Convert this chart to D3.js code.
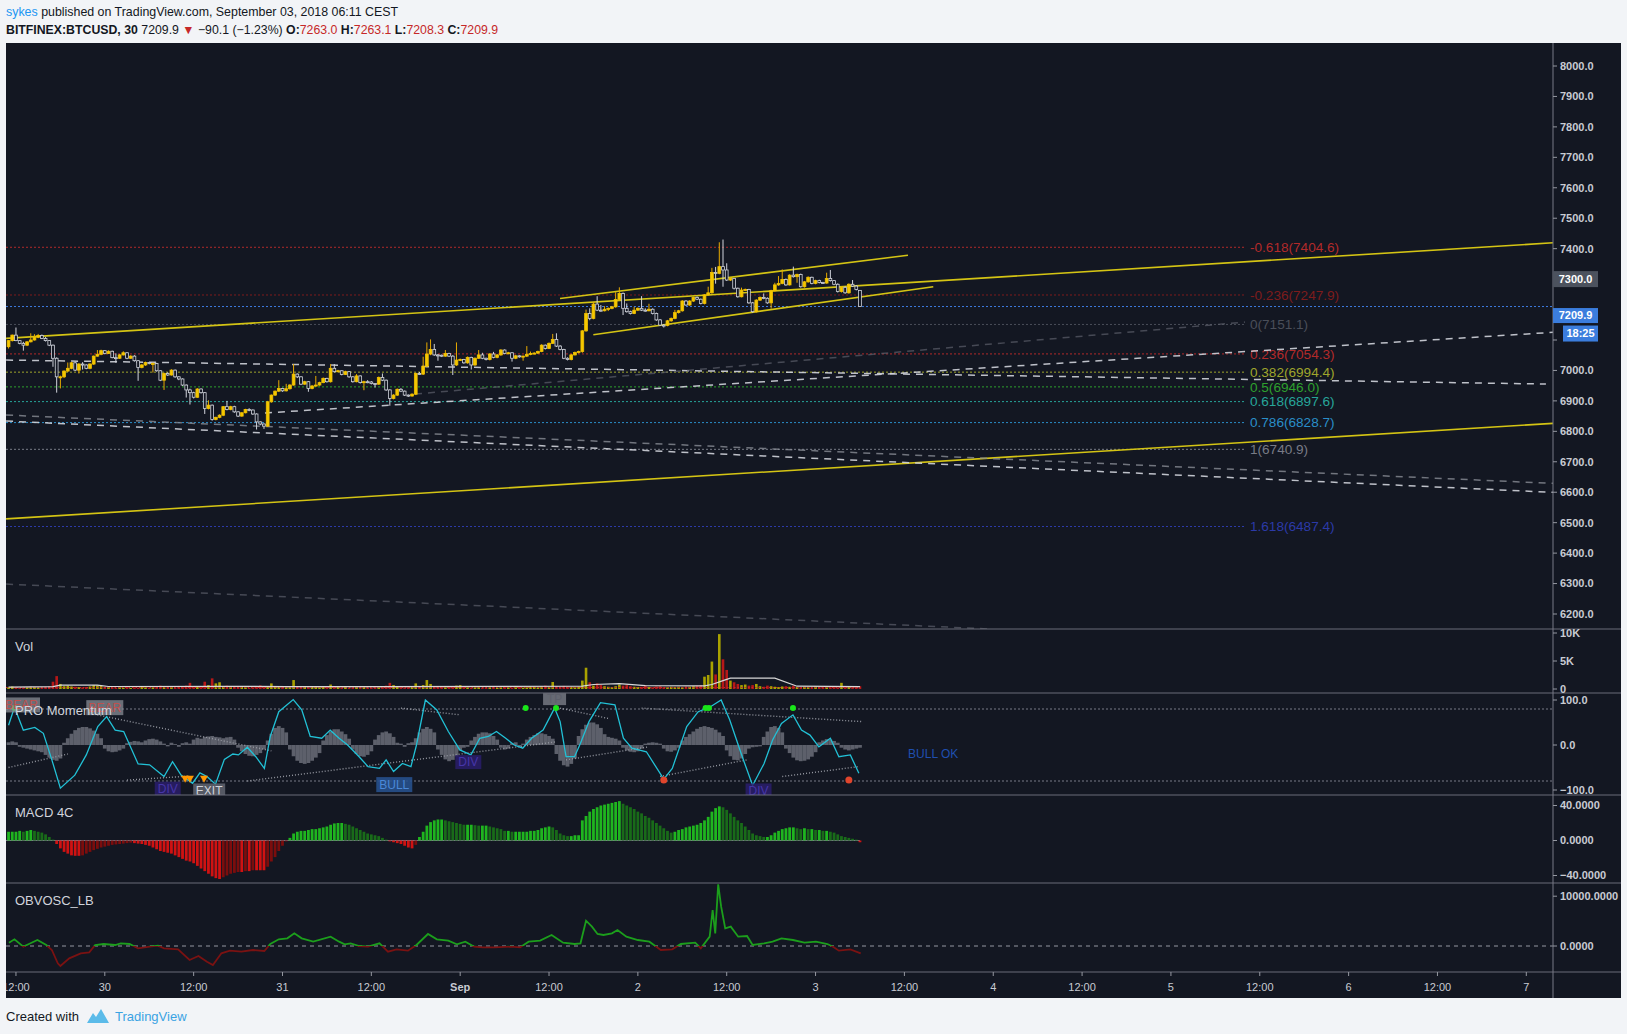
<!DOCTYPE html>
<html>
<head>
<meta charset="utf-8">
<script src="https://cdn.jsdelivr.net/npm/d3@7"></script>
<style>
  body { margin: 0; background: #f2f4f7; }
  svg text { font-family: "Liberation Sans", Arial, sans-serif; }
</style>
</head>
<body>
<svg id="chart"></svg>
<script>
// ---- data (30 min bars, BITFINEX:BTCUSD) ----
const firstOpen = 7078;
const lastOpen = 7263.0;
const closes = [
  7098,7116,7098,7089,7083,7094,7100,7109,7115,7105, 7098,7083,7040,6979,6979,6998,7007,7025,7001,7021,
  7018,7007,7021,7047,7053,7065,7056,7063,7042,7040, 7051,7058,7040,7047,7032,7010,7018,7026,7023,7023,
  6999,6968,6990,6985,7001,6979,6972,6952,6936,6927, 6912,6939,6927,6875,6886,6839,6846,6853,6881,6872,
  6881,6864,6850,6861,6872,6870,6857,6831,6824,6817, 6897,6919,6932,6941,6933,6940,6952,6988,6979,
  6955,6963,6941,6949,6952,6960,6974,6963,7007,6996, 6999,6987,6996,6979,6963,6982,6960,6963,6962,6957,
  6955,6977,6968,6936,6908,6919,6938,6932,6919,6916, 6922,6990,6988,7014,7054,7069,7051,7050,7047,7056,
  7047,7018,7034,7036,7025,7043,7018,7040,7051,7040, 7036,7054,7043,7051,7067,7056,7058,7040,7048,7045,
  7047,7053,7056,7057,7062,7083,7072,7089,7102,7080, 7069,7040,7036,7051,7059,7062,7130,7187,
  7171,7218,7198,7196,7201,7204,7209,7233,7253,7204, 7193,7187,7198,7204,7198,7196,7201,7187,7166,7149,
  7148,7163,7171,7190,7196,7228,7215,7228,7240,7234, 7220,7248,7255,7322,7319,7341,7330,7297,7302,7270,
  7242,7264,7266,7222,7193,7231,7240,7237,7222,7262, 7281,7286,7299,7281,7313,7308,7315,7275,7291,7306,
  7286,7295,7289,7287,7302,7295,7283,7259,7273,7255, 7283,7277,7266,7209.9
];
const highs = [
  7100,7118,7141,7099,7094,7096,7122,7119,7120,7118, 7110,7100,7085,7043,6983,7000,7026,7028,7028,7024,
  7027,7020,7023,7049,7067,7068,7067,7066,7065,7056, 7054,7063,7060,7050,7050,7034,7021,7029,7028,7026,
  7025,7001,6993,6994,7004,7003,6981,6974,6954,6940, 6930,6942,6941,6929,6902,6888,6848,6856,6883,6900,
  6884,6884,6866,6863,6874,6876,6872,6859,6833,6826, 6900,6921,6934,6968,6943,6956,6955,7021,6990,
  6981,6966,6965,6952,6982,6963,6977,6976,7021,7021, 7002,7000,6999,6998,6981,6988,6984,6966,6968,6965,
  6958,6980,6990,6970,6938,6922,6941,6942,6934,6921, 6925,6993,6995,7045,7092,7102,7087,7054,7052,7067,
  7058,7050,7092,7039,7038,7046,7045,7043,7067,7058, 7042,7057,7061,7054,7070,7069,7061,7060,7051,7050,
  7049,7080,7062,7060,7065,7086,7085,7092,7120,7122, 7083,7071,7043,7054,7062,7065,7133,7200,
  7204,7225,7244,7215,7211,7207,7212,7257,7273,7256, 7220,7196,7209,7207,7244,7204,7219,7204,7190,7169,
  7152,7166,7174,7199,7199,7231,7231,7231,7243,7243, 7236,7251,7275,7337,7340,7421,7430,7352,7305,7300,
  7272,7272,7269,7268,7225,7234,7243,7253,7240,7265, 7288,7310,7332,7302,7316,7341,7318,7318,7294,7309,
  7308,7298,7298,7291,7321,7330,7297,7286,7276,7276, 7286,7297,7280,7263.1
];
const lows = [
  7072,7095,7096,7086,7065,7080,7092,7098,7106,7103, 7095,7080,7012,6927,6941,6975,6995,7004,6998,6990,
  7003,7004,7004,7018,7045,7050,7053,7054,7040,7025, 7038,7049,7037,7038,7029,6966,7007,7015,7020,6993,
  6996,6965,6936,6982,6983,6976,6968,6949,6911,6888, 6908,6910,6924,6857,6872,6835,6836,6843,6850,6869,
  6869,6861,6847,6848,6859,6866,6854,6806,6820,6808, 6815,6894,6916,6929,6930,6931,6937,6950,6975,
  6952,6953,6930,6938,6946,6950,6958,6960,6960,6993, 6994,6984,6985,6976,6960,6961,6957,6935,6958,6954,
  6944,6953,6965,6933,6884,6905,6916,6929,6916,6913, 6914,6919,6985,6985,7010,7050,7048,7032,7044,7045,
  7044,6985,7015,7031,7022,7022,7003,7015,7038,7037, 7033,7033,7040,7040,7048,7053,7053,7029,7037,7042,
  7032,7044,7050,7053,7054,7060,7069,7070,7087,7077, 7066,7037,7033,7033,7049,7056,7058,7127,
  7165,7168,7195,7193,7194,7195,7201,7206,7230,7182, 7190,7184,7185,7195,7195,7193,7194,7184,7163,7146,
  7141,7145,7160,7168,7187,7193,7212,7212,7225,7231, 7217,7217,7245,7252,7285,7316,7275,7294,7294,7266,
  7239,7240,7261,7219,7190,7190,7228,7234,7219,7203, 7259,7278,7283,7278,7279,7305,7288,7272,7272,7288,
  7283,7283,7286,7284,7285,7292,7280,7256,7256,7252, 7252,7274,7263,7208.3
];
const volumes = [
  300,450,350,200,250,300,400,350,250,300, 350,500,1300,2300,900,500,600,450,400,350,
  300,350,450,700,650,600,400,350,300,250, 300,250,350,200,300,250,500,300,250,300,
  450,600,500,400,350,300,550,400,600,1100, 500,450,400,1300,700,1900,1000,1200,500,600,
  450,400,500,350,300,250,300,500,650,400, 350,1000,500,400,500,300,450,1600,400,350,
  400,300,500,350,300,400,500,800,450,400, 300,350,250,300,400,350,500,300,250,350,
  300,400,600,1100,700,400,350,300,350,500, 1000,500,700,1600,900,500,400,350,300,450,
  400,600,700,350,300,250,300,350,250,300, 300,350,250,300,400,300,250,300,350,250,
  300,400,350,300,450,600,400,1250,500,400, 550,400,350,300,400,1500,3800,1200,600,1000,
  700,500,400,350,500,800,600,700,500,400, 350,400,600,350,300,450,500,350,300,400,
  350,400,300,450,400,500,600,700,2200,2500, 4900,2600,9800,5300,3400,1500,1200,900,700,800,
  600,700,900,500,400,600,500,400,350,450, 500,400,600,350,300,400,350,300,450,400,
  350,300,400,350,300,1100,500,400,350,450, 500
];
// volume moving average: [bar index, value]
const volMA = [[0,350],[12,420],[14,700],[24,700],[27,450],[60,480],[75,420],[100,420],[155,500],[158,800],
  [165,950],[172,600],[188,550],[190,800],[193,1500],[195,1950],[207,1950],[213,500],[230,420]];

// PRO Momentum
const momHist = [
  6,8,6, -4,-6,-8,-10,-12,-14,-16, -22,-28,-33,-35,-30, 5,15,25,33,38,40,40,37,32,25,15,
  -8,-14,-16,-15,-12,-8, 4,7,9,8,6, 10,13,14,12,8, 3,-3,5,2,-4,4,6,3, 12,16,14,
  18,19,20,18,17,15,17,18,12, -6,-14,-20,-24,-25,-22,-18,-10, 10,25,38,42,38,28,
  -10,-25,-35,-40,-42,-40,-35,-28,-18, 10,22,30,35,35,30,24,14, -10,-20,-25,-26,-22,-14,
  12,22,28,30,26,18, 5,3,-4,4,6, 15,28,36,40,36,28, -10,-22,-32,-36,-33,-25, -12,-6,-4,
  10,18,25,28,28,26,20,12, -6,-10,-8,4,6,-5,3, 12,18,22,26,26,24,20,14, -20,-35,-45,-48,-42,-30,
  20,35,45,50,50,46,38, 24,18,16,14,10, -6,-12,-15,-16,-14,-8, 3,5,6,5,3, -8,-14,-15,-12,-6,
  10,18,24,30,36,40,42,40,38,34,28,20, -12,-25,-33,-34,-30,-20, -8,-5,-4,-3, 18,30,40,42,38,28,
  -8,-18,-28,-34,-36,-35,-32,-26,-16, 6,10,13,12,9,5, -6,-10,-12,-10,-8,-6
];
const momLine = [[0,44],[1.6,84],[4,33],[7.1,39],[9.4,26],[11.7,-33],[14,-96],[17.9,-67],[21,-22],[24.1,41],
  [26.5,63],[28.8,33],[31.1,30],[35,-42],[38.1,-44],[42,-70],[44.3,-37],[46.6,-67],[49.7,-85],[51.7,-62],
  [53.6,-70],[55.9,-87],[58.3,-32],[60.6,-20],[62.1,-22],[64.5,-5],[66.8,-26],[69.1,-52],[70.7,19],[73,74],
  [76.9,101],[79.2,78],[81.5,19],[84.6,15],[86.9,33],[89.3,15],[91.6,0],[94.7,-26],[97.1,-48],[100.2,-52],
  [102,-33],[104,-59],[106.4,-41],[108.7,-48],[110.2,0],[112.6,100],[115.7,78],[118.8,30],[121.9,-11],[124.9,-22],
  [127.3,15],[129.6,19],[131.8,30],[134.3,15],[136.6,0],[138.9,-7],[141.3,15],[144.4,33],[147.5,82],[149,52],
  [150.6,-26],[152.9,-26],[154.5,4],[156.8,52],[159.9,94],[163.8,89],[166.1,15],[168.4,-7],[172.3,-15],[177,-76],
  [179.3,-52],[183.2,41],[186.3,74],[189.4,84],[192.5,100],[194.8,56],[197.9,-19],[201,-90],[204.1,-41],[206.4,11],
  [208.8,48],[211.9,67],[214.2,33],[216.5,22],[218.9,-4],[222,15],[224.3,-26],[227.4,-22],[229.7,-63]];
// trailing stop lines: [from bar, from value, to bar, to value]
const momTrails = [[0,-50,16,-20],[24,67,71,-13],[32,-78,49,-69],[64.5,-80,148,7],[106,82,122,67],
  [149,82,162,59],[150.6,-33,173,-4],[171,82,230.5,52],[176,-70,199.5,-33],[209,-70,229.7,-48]];
const momTopDots = [1.6,139.7,147.9,188.3,189.2,211.9];
const momBottomDots = [177,227];
const momExitMarks = [47.7,49,52.8];
const momTags = [
  {text:'BEAR', bar:3.5, value:89, kind:'bear'},
  {text:'BEAR', bar:26, value:83, kind:'bear'},
  {text:'TP', bar:147.5, value:102, kind:'tp'},
  {text:'DIV', bar:43, value:-97, kind:'div'},
  {text:'EXIT', bar:54.2, value:-101, kind:'exit'},
  {text:'BULL', bar:104.2, value:-88, kind:'bull'},
  {text:'DIV', bar:124.2, value:-38, kind:'div'},
  {text:'DIV', bar:202.6, value:-101, kind:'div'}
];
const momNote = {text:'BULL OK', bar:243, value:-20};

// MACD 4C histogram
const macdHist = [
  10,10,10,11,10,11,12,11, 10,9,7,4,1,
  -4,-9,-13,-15,-17,-17.5,-17.5,-17,-15,-13,-11,-9.5,-8,-7,-6,-5,-4.5,-4,-3.5,-3,-2.5,-3,-3.5,
  -4,-5,-6,-8,-10,-12,-13,-14,-15,-17,-19,-21,-23,-24,-26,-29,-32,-35,-38,-41,
  -43,-44,-42,-40,-38,-37,-36,-36,-35,-35,-34,-34,-34,-34,-30,-24,-19,-12,-6,-1,
  3,8,10,11,11,12,13,13,14,15,16,18,19.5,20,20,19,18,16,14,12,10,8,7,6,5,3,1,
  -1,-2,-3,-4,-6,-8,-9,-5,4,
  10,17,21,23,24,24,23,22,21,20,19,18,18,18,17.5,17,17,17,16,15,14,13,11,11,10,
  10,10,10,10,11,11,12,14,15,16,15,12,8,6,5,5,6,6,
  23,28,33,36,38,40,41,42,43,44,45,42,40,38,36,33,31,28,26,23,20,17,14,11,9,
  10,12,13,15,16,17,18,20,23,27,33,37,39,38,35,31,27,23,20,16,12,8,6,5,4,
  4,6,9,11,13,14,15,15,14,13,14,13,13,12,12,11,11,10,9,7,5,4,3,2,1,-2
];

// OBV oscillator: [bar index, value]
const obvLine = [[0.1,669],[1.6,1339],[4,-134],[5.5,402],[7.8,1205],[10.2,201],[11.7,-803],[13.3,-3480],[14,-4016],
  [16.4,-2476],[19.5,-1473],[21.8,-1272],[23.4,201],[25.7,402],[28.8,201],[30.3,535],[32.7,402],[35,-469],[38.1,-134],
  [40.4,67],[42,-469],[45.8,-669],[48.9,-2811],[51.3,-2008],[53.6,-3146],[55.2,-3815],[57.5,-1473],[59.8,-937],
  [62.9,-1138],[66,-803],[69.1,-1004],[70.7,402],[73,1339],[75.3,1540],[77.2,2543],[79.2,1540],[82.3,870],[87,1874],
  [89.3,870],[90.8,335],[92.4,535],[94.7,0],[97.1,-134],[100.2,535],[102.5,-1138],[104.8,-669],[107.9,-937],[110.2,201],
  [113.3,2410],[115.7,1339],[118.8,1071],[121.1,335],[123.4,870],[125.8,-134],[128.1,-268],[131.2,-268],[135.8,-134],
  [138.2,-268],[140.5,870],[143.6,1071],[146.7,2209],[149.8,669],[152.9,402],[154.5,535],[156,5087],[157.6,3882],
  [159.1,2410],[160.7,2209],[163,2543],[164.5,3213],[166.9,1874],[170,1205],[173.1,870],[176.2,-803],[179.3,-669],
  [181.6,402],[185.5,669],[187,-469],[189.4,1874],[190.2,7229],[190.9,2543],[191.7,12384],[192.5,7898],[193.6,3547],
  [195.1,3882],[197.1,1874],[199.5,2008],[201,201],[204.1,535],[206.4,870],[208.8,1540],[211.9,1205],[215,669],
  [218.1,870],[221.2,402],[222.7,-134],[224.3,-937],[227.4,-669],[230.2,-1473]];

// Fibonacci retracement
const fibLevels = [
  {label:'-0.618', price:7404.6}, {label:'-0.236', price:7247.9}, {label:'0', price:7151.1},
  {label:'0.236', price:7054.3}, {label:'0.382', price:6994.4}, {label:'0.5', price:6946.0},
  {label:'0.618', price:6897.6}, {label:'0.786', price:6828.7}, {label:'1', price:6740.9},
  {label:'1.618', price:6487.4}
];
const fibEnd = '2018-09-05T10:00Z';

// drawn trend lines: [time, price] anchors
const trendLines = [
  {kind:'yellow', p:[['2018-08-29T10:40Z',7105.4],['2018-09-07T03:36Z',7419.2]]},
  {kind:'yellow', p:[['2018-08-29T10:40Z',6512.5],['2018-09-07T03:36Z',6826.2]]},
  {kind:'yellow', p:[['2018-09-01T13:29Z',7236.2],['2018-09-03T12:29Z',7378.5]]},
  {kind:'yellow', p:[['2018-09-01T17:59Z',7117.3],['2018-09-03T15:54Z',7275.0]]},
  {kind:'white', p:[['2018-08-29T10:40Z',7034.2],['2018-09-07T02:39Z',6955.3]]},
  {kind:'white', p:[['2018-08-30T21:38Z',6860.4],['2018-09-07T03:36Z',7125.2]]},
  {kind:'faint', p:[['2018-08-31T17:54Z',6922.5],['2018-09-05T10:00Z',7159.0]]},
  {kind:'gray', p:[['2018-08-29T10:40Z',6853.5],['2018-09-07T03:36Z',6629.1]]},
  {kind:'white', p:[['2018-08-29T10:40Z',6833.8],['2018-09-07T03:36Z',6599.6]]},
  {kind:'faint', p:[['2018-08-29T10:40Z',6298.3],['2018-09-03T23:42Z',6150.5]]}
];

const lastPrice = 7209.9;
const markedPrice = 7300;
const countdown = '18:25';
const timeTickLabels = ['12:00','30','12:00','31','12:00','Sep','12:00','2','12:00','3','12:00','4','12:00','5','12:00','6','12:00','7'];
const priceTicks = d3.range(6200, 8001, 100);

// ---- layout ----
const W = 1627, H = 1034;
const plotL = 6, plotR = 1553, frameR = 1621;
const panes = {
  main: [43, 629], vol: [629, 693], mom: [693, 795], macd: [795, 883], obv: [883, 972]
};
const bg = '#131722';
const axisText = '#c8cbd3';

const barStart = Date.UTC(2018, 7, 29, 11, 0);
const barMs = 30 * 60 * 1000;
const barTime = i => new Date(barStart + i * barMs);

var x = d3.scaleUtc()
  .domain([Date.UTC(2018, 7, 30), Date.UTC(2018, 8, 7)])
  .range([104.8, 1526.3]);

var y = d3.scaleLinear().domain([6200, 8000]).range([614, 66]);
var yVol = d3.scaleLinear().domain([0, 10000]).range([689, 633]);
var yMom = d3.scaleLinear().domain([-100, 100]).range([790, 700]);
var yMacd = d3.scaleLinear().domain([-40, 40]).range([875.5, 805.5]);
var yObv = d3.scaleLinear().domain([0, 10000]).range([946, 896.2]);

var bars = closes.map((c, i) => ({
  i: i,
  t: barTime(i),
  o: i === 0 ? firstOpen : (i === closes.length - 1 ? lastOpen : closes[i - 1]),
  h: highs[i], l: lows[i], c: c, v: volumes[i]
}));
bars.forEach(b => { b.up = b.c >= b.o; });

var svg = d3.select('#chart').attr('width', W).attr('height', H);
var defs = svg.append('defs');

svg.append('rect').attr('width', W).attr('height', H).attr('fill', '#f2f4f7');
svg.append('rect')
  .attr('x', plotL).attr('y', 43)
  .attr('width', frameR - plotL).attr('height', 998 - 43)
  .attr('fill', bg);

function clipFor(id, top, bottom) {
  defs.append('clipPath').attr('id', id)
    .append('rect')
    .attr('x', plotL).attr('y', top)
    .attr('width', plotR - plotL).attr('height', bottom - top);
  return svg.append('g').attr('clip-path', `url(#${id})`);
}

// ---- header ----
var h1 = svg.append('text').attr('x', 6).attr('y', 16).attr('font-size', 12.4).attr('fill', '#131722');
h1.append('tspan').attr('fill', '#2196f3').text('sykes');
h1.append('tspan').text(' published on TradingView.com, September 03, 2018 06:11 CEST');

var h2 = svg.append('text').attr('x', 6).attr('y', 34).attr('font-size', 12.3).attr('fill', '#131722');
h2.append('tspan').attr('font-weight', 'bold').text('BITFINEX:BTCUSD, 30');
h2.append('tspan').text('  ' + lastPrice.toFixed(1) + ' ');
h2.append('tspan').attr('fill', '#c62828').text('▼');
h2.append('tspan').text(' −90.1 (−1.23%) ');
[['O:', lastOpen], ['H:', highs[highs.length - 1]], ['L:', lows[lows.length - 1]], ['C:', lastPrice]].forEach(d => {
  h2.append('tspan').attr('font-weight', 'bold').text(d[0]);
  h2.append('tspan').attr('fill', '#c62828').text(d[1].toFixed(1) + ' ');
});

// ---- footer ----
svg.append('text').attr('x', 6).attr('y', 1021).attr('font-size', 13).attr('fill', '#131722').text('Created with');
svg.append('path')
  .attr('d', 'M87,1023 L93,1013 L96,1017 L101,1009 L109,1023 Z')
  .attr('fill', '#5bbbe9');
svg.append('text').attr('x', 115).attr('y', 1021).attr('font-size', 13).attr('fill', '#3aa3e3').text('TradingView');

// ---- main pane ----
var main = clipFor('clip-main', panes.main[0], panes.main[1]);

// fib levels
const fibColors = ['#b22a2a', '#7d1c1c', '#4a4e59', '#b22a2a', '#9fa52c', '#2ea02e', '#27a69a', '#2a8ec8', '#787b86', '#2c3aa8'];
fibLevels.forEach((f, k) => {
  main.append('line')
    .attr('x1', plotL).attr('x2', x(new Date(fibEnd)))
    .attr('y1', y(f.price)).attr('y2', y(f.price))
    .attr('stroke', fibColors[k]).attr('stroke-width', 1)
    .attr('stroke-dasharray', '2,2');
  main.append('text')
    .attr('x', x(new Date(fibEnd)) + 5).attr('y', y(f.price))
    .attr('dy', '0.35em').attr('font-size', 13.6)
    .attr('fill', fibColors[k])
    .text(`${f.label}(${f.price.toFixed(1)})`);
});

// last price line
main.append('line')
  .attr('x1', plotL).attr('x2', plotR)
  .attr('y1', y(lastPrice)).attr('y2', y(lastPrice))
  .attr('stroke', '#3d7be0').attr('stroke-dasharray', '2,2');

// trend lines
const lineStyle = {
  yellow: {stroke: '#d4c414', width: 1.6, dash: null, op: 1},
  white: {stroke: '#d1d4dc', width: 1.5, dash: '7,6', op: 0.9},
  gray: {stroke: '#8a8d96', width: 1.5, dash: '7,6', op: 0.8},
  faint: {stroke: '#5d606b', width: 1.5, dash: '7,6', op: 0.7}
};
var tl = d3.line().x(d => x(new Date(d[0]))).y(d => y(d[1]));
trendLines.forEach(l => {
  var s = lineStyle[l.kind];
  main.append('path')
    .attr('d', tl(l.p))
    .attr('fill', 'none')
    .attr('stroke', s.stroke)
    .attr('stroke-width', s.width)
    .attr('stroke-opacity', s.op)
    .attr('stroke-dasharray', s.dash);
});

// candles
const bodyW = 2.8;
var candle = main.append('g').selectAll('g').data(bars).join('g');
candle.append('line')
  .attr('x1', d => x(d.t)).attr('x2', d => x(d.t))
  .attr('y1', d => y(d.h)).attr('y2', d => y(d.l))
  .attr('stroke', d => d.up ? '#e8aa00' : '#d1d4dc')
  .attr('stroke-width', 1);
candle.append('rect')
  .attr('x', d => x(d.t) - bodyW / 2)
  .attr('y', d => y(Math.max(d.o, d.c)))
  .attr('width', bodyW)
  .attr('height', d => Math.max(1, Math.abs(y(d.o) - y(d.c))))
  .attr('fill', d => d.up ? '#f5c800' : bg)
  .attr('stroke', d => d.up ? '#f0c000' : '#d1d4dc')
  .attr('stroke-width', 0.8);

// ---- volume pane ----
var vol = clipFor('clip-vol', panes.vol[0], panes.vol[1]);
vol.append('g').selectAll('rect').data(bars).join('rect')
  .attr('x', d => x(d.t) - 1.3)
  .attr('y', d => yVol(d.v))
  .attr('width', 2.6)
  .attr('height', d => yVol(0) - yVol(d.v))
  .attr('fill', d => d.up ? '#a9a200' : '#b71818');
vol.append('line')
  .attr('x1', plotL).attr('x2', x(barTime(bars.length - 1)))
  .attr('y1', yVol(0) - 1.5).attr('y2', yVol(0) - 1.5)
  .attr('stroke', '#c62828').attr('stroke-dasharray', '1.5,2');
vol.append('path')
  .attr('d', d3.line().x(d => x(barTime(d[0]))).y(d => yVol(d[1]))(volMA))
  .attr('fill', 'none').attr('stroke', '#d8d8d8').attr('stroke-width', 1.2);
svg.append('text').attr('x', 15).attr('y', panes.vol[0] + 22).attr('font-size', 13)
  .attr('fill', '#d1d4dc').text('Vol');

// ---- PRO Momentum pane ----
var mom = clipFor('clip-mom', panes.mom[0], panes.mom[1]);
[80, -80].forEach(v => {
  mom.append('line')
    .attr('x1', plotL).attr('x2', plotR)
    .attr('y1', yMom(v)).attr('y2', yMom(v))
    .attr('stroke', '#787b86').attr('stroke-dasharray', '2,2');
});
mom.append('g').selectAll('rect').data(momHist).join('rect')
  .attr('x', (d, i) => x(barTime(i)) - 1.9)
  .attr('y', d => yMom(Math.max(0, d)))
  .attr('width', 3.8)
  .attr('height', d => Math.abs(yMom(d) - yMom(0)))
  .attr('fill', '#5d606b');
momTrails.forEach(t => {
  mom.append('line')
    .attr('x1', x(barTime(t[0]))).attr('y1', yMom(t[1]))
    .attr('x2', x(barTime(t[2]))).attr('y2', yMom(t[3]))
    .attr('stroke', '#9598a1').attr('stroke-width', 1.4)
    .attr('stroke-dasharray', '1,2');
});
mom.append('path')
  .attr('d', d3.line().x(d => x(barTime(d[0]))).y(d => yMom(d[1]))(momLine))
  .attr('fill', 'none').attr('stroke', '#22c1d6').attr('stroke-width', 1.3);
mom.selectAll('circle.top').data(momTopDots).join('circle')
  .attr('cx', d => x(barTime(d))).attr('cy', yMom(82)).attr('r', 3)
  .attr('fill', '#19e619');
mom.selectAll('circle.bot').data(momBottomDots).join('circle')
  .attr('cx', d => x(barTime(d))).attr('cy', yMom(-78)).attr('r', 3.5)
  .attr('fill', '#e0452c');
mom.selectAll('path.exit').data(momExitMarks).join('path')
  .attr('d', d => {
    var cx = x(barTime(d)), cy = yMom(-77);
    return `M${cx - 4},${cy - 4}L${cx + 4},${cy - 4}L${cx},${cy + 3}Z`;
  })
  .attr('fill', '#ff9800');

const tagStyle = {
  bear: {fill: '#8a8d96', op: 0.75, text: '#c0504d', w: 37, h: 15},
  tp: {fill: '#8a8d96', op: 0.7, text: '#5d606b', w: 23, h: 12},
  div: {fill: '#2a1d6b', op: 0.85, text: '#4636a8', w: 26, h: 14},
  exit: {fill: '#5d606b', op: 0.9, text: '#d1d4dc', w: 32, h: 14},
  bull: {fill: '#27508c', op: 0.9, text: '#4a88d8', w: 36, h: 15}
};
momTags.forEach(t => {
  var s = tagStyle[t.kind];
  var cx = x(barTime(t.bar)), cy = yMom(t.value);
  mom.append('rect')
    .attr('x', cx - s.w / 2).attr('y', cy - s.h / 2)
    .attr('width', s.w).attr('height', s.h)
    .attr('fill', s.fill).attr('fill-opacity', s.op);
  mom.append('text')
    .attr('x', cx).attr('y', cy).attr('dy', '0.36em')
    .attr('text-anchor', 'middle').attr('font-size', 12)
    .attr('fill', s.text).text(t.text);
});
mom.append('text')
  .attr('x', x(barTime(momNote.bar))).attr('y', yMom(momNote.value))
  .attr('dy', '0.35em').attr('font-size', 12)
  .attr('fill', '#1f4fb0').text(momNote.text);
svg.append('text').attr('x', 15).attr('y', panes.mom[0] + 22).attr('font-size', 13)
  .attr('fill', '#d1d4dc').text('PRO Momentum');

// ---- MACD 4C pane ----
var macd = clipFor('clip-macd', panes.macd[0], panes.macd[1]);
macd.append('line')
  .attr('x1', plotL).attr('x2', x(barTime(macdHist.length - 1)))
  .attr('y1', yMacd(0)).attr('y2', yMacd(0))
  .attr('stroke', '#787b86');
macd.append('g').selectAll('rect').data(macdHist).join('rect')
  .attr('x', (d, i) => x(barTime(i)) - 1.4)
  .attr('y', d => yMacd(Math.max(0, d)))
  .attr('width', 2.8)
  .attr('height', d => Math.max(0.5, Math.abs(yMacd(d) - yMacd(0))))
  .attr('fill', (d, i) => {
    var prev = i > 0 ? macdHist[i - 1] : d;
    if (d >= 0) return d >= prev ? '#1fb51f' : '#196b19';
    return d <= prev ? '#d01212' : '#7c0d0d';
  });
svg.append('text').attr('x', 15).attr('y', panes.macd[0] + 22).attr('font-size', 13)
  .attr('fill', '#d1d4dc').text('MACD 4C');

// ---- OBV oscillator pane ----
var obv = clipFor('clip-obv', panes.obv[0], panes.obv[1]);
obv.append('line')
  .attr('x1', plotL).attr('x2', plotR)
  .attr('y1', yObv(0)).attr('y2', yObv(0))
  .attr('stroke', '#9598a1').attr('stroke-dasharray', '4,4');
defs.append('clipPath').attr('id', 'obv-pos').append('rect')
  .attr('x', plotL).attr('y', panes.obv[0]).attr('width', plotR - plotL).attr('height', yObv(0) - panes.obv[0]);
defs.append('clipPath').attr('id', 'obv-neg').append('rect')
  .attr('x', plotL).attr('y', yObv(0)).attr('width', plotR - plotL).attr('height', panes.obv[1] - yObv(0));
var obvPath = d3.line().x(d => x(barTime(d[0]))).y(d => yObv(d[1]))(obvLine);
obv.append('path').attr('d', obvPath).attr('clip-path', 'url(#obv-pos)')
  .attr('fill', 'none').attr('stroke', '#1c9e1c').attr('stroke-width', 1.8);
obv.append('path').attr('d', obvPath).attr('clip-path', 'url(#obv-neg)')
  .attr('fill', 'none').attr('stroke', '#7a1212').attr('stroke-width', 1.8);
svg.append('text').attr('x', 15).attr('y', panes.obv[0] + 22).attr('font-size', 13)
  .attr('fill', '#d1d4dc').text('OBVOSC_LB');

// ---- separators and right axis ----
[panes.vol[0], panes.mom[0], panes.macd[0], panes.obv[0], panes.obv[1]].forEach(py => {
  svg.append('line').attr('x1', plotL).attr('x2', frameR)
    .attr('y1', py).attr('y2', py)
    .attr('stroke', '#6a6d78').attr('stroke-width', 1);
});
svg.append('line').attr('x1', plotR).attr('x2', plotR)
  .attr('y1', 43).attr('y2', 998)
  .attr('stroke', '#787b86');

// price badges sit on top of these, so their own tick labels are left out
const badgeCovered = [7100, 7200, 7300];

function axisLabels(ticks, scale, fmt, top, bottom) {
  var g = svg.append('g');
  ticks.forEach(v => {
    var py = scale(v);
    if (py < top - 6 || py > bottom + 2) return;
    g.append('line').attr('x1', plotR).attr('x2', plotR + 4)
      .attr('y1', py).attr('y2', py).attr('stroke', '#9598a1');
    if (scale === y && badgeCovered.includes(v)) return;
    g.append('text').attr('x', plotR + 7).attr('y', py).attr('dy', '0.35em')
      .attr('font-size', 11).attr('font-weight', 'bold')
      .attr('fill', axisText).text(fmt(v));
  });
  return g;
}
axisLabels(priceTicks, y, d3.format('.1f'), panes.main[0], panes.main[1]);
axisLabels([0, 5000, 10000], yVol, v => v === 0 ? '0' : (v / 1000) + 'K', panes.vol[0], panes.vol[1]);
axisLabels([-100, 0, 100], yMom, d3.format('.1f'), panes.mom[0], panes.mom[1]);
axisLabels([-40, 0, 40], yMacd, d3.format('.4f'), panes.macd[0], panes.macd[1]);
axisLabels([0, 10000], yObv, d3.format('.4f'), panes.obv[0], panes.obv[1]);

// price scale badges
function badge(x0, x1, cy, h, fill, label) {
  svg.append('rect').attr('x', x0).attr('y', cy - h / 2).attr('width', x1 - x0).attr('height', h)
    .attr('fill', fill);
  svg.append('text').attr('x', x0 + (x1 - x0) / 2).attr('y', cy).attr('dy', '0.35em')
    .attr('text-anchor', 'middle').attr('font-size', 11).attr('font-weight', 'bold')
    .attr('fill', '#ffffff').text(label);
}
badge(plotR, 1598, y(markedPrice), 16, '#4c525e', markedPrice.toFixed(1));
badge(plotR, 1598, y(lastPrice) + 9, 15, '#3b7ddd', lastPrice.toFixed(1));
badge(1563, 1598, y(lastPrice) + 27, 16, '#3b7ddd', countdown);

// ---- time axis ----
var timeAxis = clipFor('clip-time', panes.obv[1], 998);
timeTickLabels.forEach((lab, k) => {
  var t = new Date(Date.UTC(2018, 7, 29, 12) + k * 12 * 3600 * 1000);
  timeAxis.append('line').attr('x1', x(t)).attr('x2', x(t))
    .attr('y1', panes.obv[1]).attr('y2', panes.obv[1] + 4)
    .attr('stroke', '#9598a1');
  timeAxis.append('text').attr('x', x(t)).attr('y', 991)
    .attr('text-anchor', 'middle').attr('font-size', 11)
    .attr('font-weight', lab === 'Sep' ? 'bold' : 'normal')
    .attr('fill', axisText).text(lab);
});
</script>
</body>
</html>
